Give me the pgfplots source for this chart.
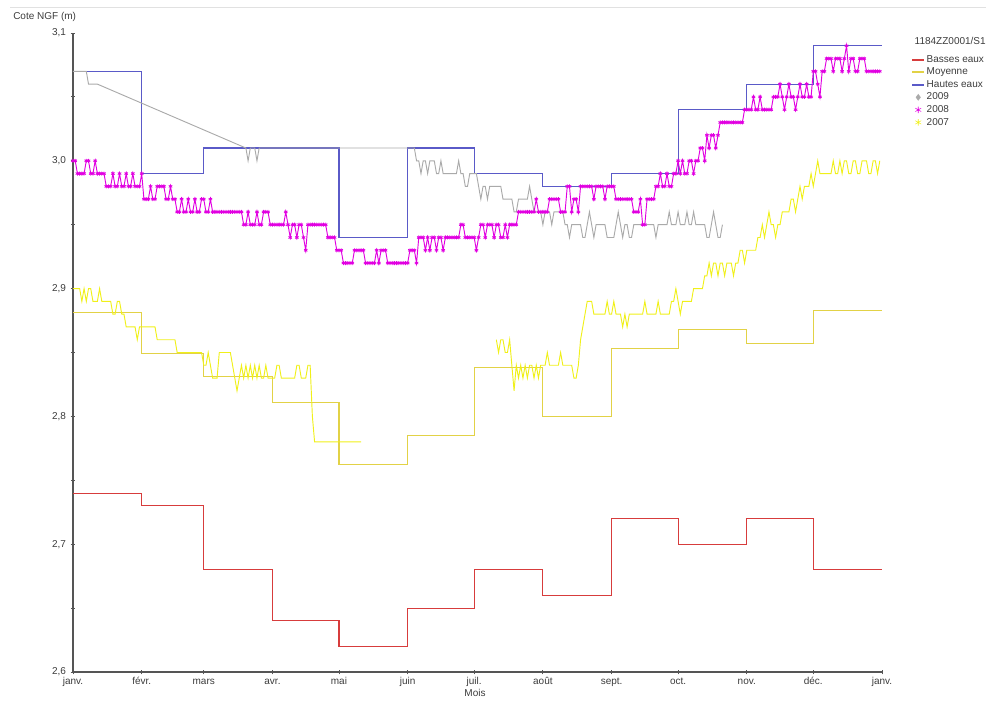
\documentclass[border=0pt]{standalone}
\usepackage{pgfplots}
\pgfplotsset{compat=1.18}
\usepackage{fontspec}
\setmainfont{Liberation Sans}
\definecolor{txt}{RGB}{60,60,60}
\definecolor{axc}{RGB}{85,85,85}
\definecolor{frame}{RGB}{225,225,225}
\definecolor{basses}{RGB}{215,60,60}
\definecolor{moy}{RGB}{226,210,70}
\definecolor{hautes}{RGB}{90,90,200}
\definecolor{y2009}{RGB}{170,170,170}
\definecolor{y2008}{RGB}{225,0,225}
\definecolor{y2007}{RGB}{240,240,25}
\pgfplotsset{
  leglineimg/.style={legend image code/.code={\draw[##1, line width=1.3pt] (0pt,0pt) -- (9pt,0pt);}},
  legmarkimg/.style={legend image code/.code={\draw[##1] plot coordinates {(4.5pt,0pt)};}},
}
\begin{document}
\begin{tikzpicture}
\path[use as bounding box] (-54.75pt,-37.5pt) rectangle (684.75pt,504pt);
\draw[frame, line width=0.8pt] (-47.25pt,498.4pt) -- (684.75pt,498.4pt);
\begin{axis}[
  at={(0pt,0pt)}, anchor=south west,
  scale only axis, width=606.75pt, height=479.25pt,
  xmin=0, xmax=365, ymin=2.6, ymax=3.1,
  axis x line=bottom, axis y line=left,
  axis line style={-, draw=axc, line width=0.8pt},
  tick style={draw=axc, line width=0.6pt},
  tick align=center, major tick length=3.5pt, minor tick length=2.5pt,
  xtick={0,31,59,90,120,151,181,212,243,273,304,334,365},
  xticklabels={janv.,févr.,mars,avr.,mai,juin,juil.,août,sept.,oct.,nov.,déc.,janv.},
  ytick={2.6,2.7,2.8,2.9,3.0,3.1},
  minor y tick num=1,
  ticklabel style={font=\fontsize{7.5}{9}\selectfont, text=txt},
  xticklabel style={yshift=1.5pt, text height=5.5pt, text depth=1.5pt},
  yticklabel style={/pgf/number format/.cd, fixed, fixed zerofill, precision=1, use comma, assume math mode=true},
  legend style={at={(axis description cs:1.036,0.988)}, anchor=north west, draw=none, fill=none,
    font=\fontsize{7.5}{9}\selectfont, text=txt, inner sep=0pt, row sep=0pt,
    nodes={inner sep=1.2pt, text height=5.5pt, text depth=1.5pt}},
  legend cell align=left,
  leglineimg,
]
\addlegendimage{empty legend}
\addlegendentry{\hspace*{-9pt}\raisebox{3.75pt}{1184ZZ0001/S1}}
\addlegendimage{draw=basses, color=basses}
\addlegendentry{Basses eaux}
\addlegendimage{draw=moy, color=moy}
\addlegendentry{Moyenne}
\addlegendimage{draw=hautes, color=hautes}
\addlegendentry{Hautes eaux}
\addlegendimage{only marks, mark=diamond*, mark size=2.2pt, color=y2009, legmarkimg}
\addlegendentry{2009}
\addlegendimage{only marks, mark=asterisk, mark size=2.5pt, color=y2008, legmarkimg}
\addlegendentry{2008}
\addlegendimage{only marks, mark=asterisk, mark size=2.5pt, color=y2007, legmarkimg}
\addlegendentry{2007}

% Basses eaux
\addplot[forget plot, const plot, basses, line width=0.8pt] coordinates {
(0,2.74)(31,2.73)(59,2.68)(90,2.64)(120,2.62)(151,2.65)(181,2.68)(212,2.66)(243,2.72)(273,2.70)(304,2.72)(334,2.68)(365,2.68)};
% Moyenne
\addplot[forget plot, const plot, moy, line width=0.8pt] coordinates {
(0,2.881)(31,2.849)(59,2.831)(90,2.811)(120,2.762)(151,2.785)(181,2.838)(212,2.80)(243,2.853)(273,2.868)(304,2.857)(334,2.883)(365,2.883)};
% Hautes eaux
\addplot[forget plot, const plot, hautes, line width=0.8pt] coordinates {
(0,3.07)(31,2.99)(59,3.01)(90,3.01)(120,2.94)(151,3.01)(181,2.99)(212,2.98)(243,2.99)(273,3.04)(304,3.06)(334,3.09)(365,3.09)};
% 2007 (two segments)
\addplot[forget plot, y2007, line width=0.7pt] coordinates {
(0,2.90)(1,2.90)(2,2.90)(3,2.90)(4,2.89)(5,2.90)(6,2.89)(7,2.90)(8,2.90)(9,2.89)(10,2.89)(11,2.89)(12,2.90)(13,2.89)(14,2.89)(15,2.89)(16,2.89)(17,2.89)(18,2.88)(19,2.88)(20,2.89)(21,2.89)(22,2.88)(23,2.88)(24,2.87)(25,2.87)(26,2.87)(27,2.87)(28,2.87)(29,2.86)(30,2.87)(31,2.87)(32,2.87)(33,2.87)(34,2.87)(35,2.87)(36,2.87)(37,2.87)(38,2.86)(39,2.86)(40,2.86)(41,2.86)(42,2.86)(43,2.86)(44,2.86)(45,2.86)(46,2.86)(47,2.85)(48,2.85)(50,2.85)(52,2.85)(54,2.85)(56,2.85)(58,2.85)(59,2.84)(60,2.84)(61,2.85)(62,2.84)(63,2.83)(64,2.83)(65,2.83)(66,2.85)(67,2.85)(68,2.85)(69,2.85)(70,2.85)(71,2.85)(72,2.84)(73,2.83)(74,2.82)(75,2.83)(76,2.84)(77,2.83)(78,2.84)(79,2.83)(80,2.84)(81,2.83)(82,2.84)(83,2.83)(84,2.84)(85,2.83)(86,2.83)(87,2.84)(88,2.83)(89,2.83)(90,2.83)(91,2.83)(92,2.84)(93,2.84)(94,2.83)(95,2.83)(96,2.83)(97,2.83)(98,2.83)(99,2.83)(100,2.83)(101,2.84)(102,2.84)(103,2.83)(104,2.83)(105,2.83)(106,2.84)(107,2.84)(108,2.80)(109,2.78)(110,2.78)(115,2.78)(120,2.78)(125,2.78)(130,2.78)};
\addplot[forget plot, y2007, line width=0.7pt] coordinates {
(191,2.86)(192,2.85)(193,2.86)(194,2.86)(195,2.85)(196,2.85)(197,2.86)(198,2.84)(199,2.82)(200,2.84)(201,2.83)(202,2.84)(203,2.83)(204,2.84)(205,2.83)(206,2.84)(207,2.84)(208,2.83)(209,2.84)(210,2.83)(211,2.84)(212,2.84)(213,2.84)(214,2.85)(215,2.84)(216,2.84)(217,2.84)(218,2.84)(219,2.84)(220,2.85)(221,2.84)(222,2.84)(223,2.84)(224,2.84)(225,2.84)(226,2.83)(227,2.83)(228,2.84)(229,2.86)(230,2.87)(231,2.88)(232,2.89)(233,2.89)(234,2.89)(235,2.88)(236,2.88)(237,2.88)(238,2.88)(239,2.88)(240,2.88)(241,2.89)(242,2.88)(243,2.88)(244,2.89)(245,2.88)(246,2.88)(247,2.88)(248,2.87)(249,2.88)(250,2.87)(251,2.88)(252,2.88)(253,2.88)(254,2.88)(255,2.88)(256,2.88)(257,2.88)(258,2.89)(259,2.88)(260,2.88)(261,2.88)(262,2.88)(263,2.88)(264,2.89)(265,2.88)(266,2.88)(267,2.88)(268,2.88)(269,2.88)(270,2.89)(271,2.89)(272,2.90)(273,2.89)(274,2.88)(275,2.89)(276,2.89)(277,2.89)(278,2.89)(279,2.89)(280,2.90)(281,2.90)(282,2.90)(283,2.90)(284,2.90)(285,2.91)(286,2.91)(287,2.92)(288,2.91)(289,2.92)(290,2.92)(291,2.91)(292,2.92)(293,2.92)(294,2.91)(295,2.92)(296,2.92)(297,2.92)(298,2.91)(299,2.92)(300,2.92)(301,2.93)(302,2.93)(303,2.92)(304,2.93)(305,2.93)(306,2.93)(307,2.93)(308,2.93)(309,2.94)(310,2.94)(311,2.95)(312,2.94)(313,2.95)(314,2.96)(315,2.95)(316,2.95)(317,2.94)(318,2.95)(319,2.95)(320,2.96)(321,2.96)(322,2.96)(323,2.96)(324,2.97)(325,2.97)(326,2.96)(327,2.97)(328,2.98)(329,2.97)(330,2.98)(331,2.98)(332,2.98)(333,2.99)(334,2.98)(335,2.99)(336,3.00)(337,2.99)(338,2.99)(339,2.99)(340,2.99)(341,2.99)(342,2.99)(343,3.00)(344,2.99)(345,2.99)(346,3.00)(347,2.99)(348,3.00)(349,3.00)(350,2.99)(351,2.99)(352,3.00)(353,3.00)(354,2.99)(355,2.99)(356,3.00)(357,3.00)(358,3.00)(359,2.99)(360,2.99)(361,3.00)(362,3.00)(363,2.99)(364,3.00)};
% 2009
\addplot[forget plot, y2009, line width=0.7pt] coordinates {
(0,3.07)(1,3.07)(2,3.07)(3,3.07)(4,3.07)(5,3.07)(6,3.07)(7,3.06)(8,3.06)(9,3.06)(10,3.06)(11,3.06)(78,3.01)(79,3.00)(80,3.01)(81,3.01)(82,3.01)(83,3.00)(84,3.01)(85,3.01)(86,3.01)(87,3.01)(88,3.01)(89,3.01)(90,3.01)(91,3.01)(154,3.01)(155,3.00)(156,3.00)(157,2.99)(158,3.00)(159,3.00)(160,2.99)(161,3.00)(162,3.00)(163,3.00)(164,2.99)(165,2.99)(166,3.00)(167,2.99)(168,2.99)(169,2.99)(170,2.99)(171,2.99)(172,2.99)(173,2.99)(174,3.00)(175,2.99)(176,2.99)(177,2.98)(178,2.98)(179,2.99)(180,2.99)(181,2.99)(182,2.99)(183,2.98)(184,2.97)(185,2.98)(186,2.98)(187,2.97)(188,2.98)(189,2.98)(190,2.98)(191,2.98)(192,2.98)(193,2.98)(194,2.97)(195,2.97)(196,2.97)(197,2.97)(198,2.97)(199,2.96)(200,2.96)(201,2.97)(202,2.97)(203,2.97)(204,2.97)(205,2.97)(206,2.98)(207,2.97)(208,2.96)(209,2.96)(210,2.96)(211,2.96)(212,2.95)(213,2.96)(214,2.96)(215,2.96)(216,2.95)(217,2.96)(218,2.96)(219,2.96)(220,2.96)(221,2.96)(222,2.95)(223,2.95)(224,2.94)(225,2.95)(226,2.95)(227,2.95)(228,2.95)(229,2.95)(230,2.94)(231,2.94)(232,2.95)(233,2.96)(234,2.95)(235,2.94)(236,2.95)(237,2.95)(238,2.95)(239,2.95)(240,2.95)(241,2.94)(242,2.94)(243,2.94)(244,2.94)(245,2.95)(246,2.96)(247,2.95)(248,2.94)(249,2.95)(250,2.95)(251,2.94)(252,2.94)(253,2.95)(254,2.95)(255,2.95)(256,2.95)(257,2.95)(258,2.95)(259,2.95)(260,2.95)(261,2.95)(262,2.95)(263,2.94)(264,2.95)(265,2.95)(266,2.95)(267,2.95)(268,2.95)(269,2.96)(270,2.95)(271,2.95)(272,2.95)(273,2.96)(274,2.95)(275,2.95)(276,2.95)(277,2.96)(278,2.95)(279,2.95)(280,2.96)(281,2.95)(282,2.95)(283,2.95)(284,2.95)(285,2.95)(286,2.94)(287,2.94)(288,2.95)(289,2.96)(290,2.95)(291,2.94)(292,2.94)(293,2.95)};
% 2008
\addplot[forget plot, y2008, line width=0.7pt, mark=asterisk, mark size=1.5pt, mark options={line width=0.6pt}] coordinates {
(0,3.00)(1,3.00)(2,2.99)(3,2.99)(4,2.99)(5,2.99)(6,3.00)(7,3.00)(8,2.99)(9,2.99)(10,3.00)(11,2.99)(12,2.99)(13,2.99)(14,2.99)(15,2.98)(16,2.98)(17,2.98)(18,2.99)(19,2.98)(20,2.98)(21,2.99)(22,2.98)(23,2.98)(24,2.99)(25,2.98)(26,2.98)(27,2.99)(28,2.98)(29,2.98)(30,2.98)(31,2.99)(32,2.97)(33,2.97)(34,2.97)(35,2.98)(36,2.97)(37,2.97)(38,2.98)(39,2.98)(40,2.98)(41,2.98)(42,2.97)(43,2.97)(44,2.98)(45,2.97)(46,2.97)
(47,2.96)(48,2.96)(49,2.97)(50,2.96)(51,2.96)(52,2.97)(53,2.96)(54,2.96)(55,2.97)(56,2.96)(57,2.96)(58,2.97)(59,2.97)(60,2.96)(61,2.96)(62,2.97)(63,2.96)(64,2.96)(65,2.96)(66,2.96)(67,2.96)(68,2.96)(69,2.96)(70,2.96)(71,2.96)(72,2.96)(73,2.96)(74,2.96)(75,2.96)(76,2.96)
(77,2.95)(78,2.95)(79,2.96)(80,2.95)(81,2.95)(82,2.95)(83,2.96)(84,2.95)(85,2.95)(86,2.96)(87,2.96)(88,2.96)(89,2.95)(90,2.95)(91,2.95)
(92,2.95)(93,2.95)(94,2.95)(95,2.95)(96,2.96)(97,2.95)(98,2.94)(99,2.95)(100,2.95)(101,2.94)(102,2.95)(103,2.95)(104,2.94)(105,2.93)(106,2.95)(107,2.95)(108,2.95)(109,2.95)(110,2.95)(111,2.95)(112,2.95)(113,2.95)(114,2.95)(115,2.94)(116,2.94)(117,2.94)(118,2.94)
(119,2.93)(120,2.93)(121,2.93)(122,2.92)(123,2.92)(124,2.92)(125,2.92)(126,2.92)(127,2.93)(128,2.93)(129,2.93)(130,2.93)(131,2.93)(132,2.92)(133,2.92)(134,2.92)(135,2.92)(136,2.92)(137,2.93)(138,2.92)(139,2.93)(140,2.93)(141,2.93)(142,2.92)(143,2.92)(144,2.92)(145,2.92)(146,2.92)
(147,2.92)(148,2.92)(149,2.92)(150,2.92)(151,2.92)(152,2.93)(153,2.93)(154,2.93)(155,2.92)(156,2.94)(157,2.94)(158,2.94)(159,2.93)(160,2.94)(161,2.93)(162,2.94)(163,2.94)(164,2.93)(165,2.94)(166,2.94)(167,2.93)(168,2.94)(169,2.94)(170,2.94)(171,2.94)(172,2.94)(173,2.94)(174,2.94)(175,2.95)(176,2.95)(177,2.94)(178,2.94)(179,2.94)(180,2.94)(181,2.94)(182,2.93)(183,2.94)(184,2.95)(185,2.95)(186,2.94)(187,2.95)(188,2.95)(189,2.95)(190,2.94)(191,2.95)(192,2.95)(193,2.94)(194,2.94)(195,2.95)(196,2.94)(197,2.95)(198,2.95)(199,2.95)(200,2.95)(201,2.96)(202,2.96)(203,2.96)(204,2.96)(205,2.96)(206,2.96)(207,2.96)(208,2.96)(209,2.97)(210,2.96)
(211,2.96)(212,2.96)(213,2.96)(214,2.96)(215,2.97)(216,2.97)(217,2.97)(218,2.97)(219,2.97)(220,2.96)(221,2.96)(222,2.96)(223,2.98)(224,2.98)(225,2.96)(226,2.97)(227,2.97)(228,2.96)(229,2.98)(230,2.98)(231,2.98)(232,2.98)(233,2.98)(234,2.98)(235,2.97)(236,2.98)(237,2.98)(238,2.98)(239,2.98)(240,2.97)(241,2.98)(242,2.98)(243,2.98)(244,2.98)(245,2.97)(246,2.97)(247,2.97)(248,2.97)(249,2.97)(250,2.97)(251,2.97)(252,2.97)(253,2.96)(254,2.96)(255,2.96)(256,2.97)(257,2.95)(258,2.95)(259,2.97)(260,2.97)(261,2.97)(262,2.97)(263,2.98)(264,2.98)(265,2.99)(266,2.98)(267,2.98)(268,2.99)(269,2.98)(270,2.98)(271,2.99)(272,2.99)(273,3.00)(274,2.99)(275,3.00)(276,2.99)(277,2.99)(278,3.00)(279,3.00)(280,2.99)(281,3.00)(282,3.00)(283,3.01)(284,3.01)(285,3.00)(286,3.02)(287,3.01)(288,3.02)(289,3.02)(290,3.01)(291,3.02)(292,3.03)(293,3.03)(294,3.03)(295,3.03)(296,3.03)(297,3.03)(298,3.03)(299,3.03)(300,3.03)(301,3.03)(302,3.03)(303,3.04)(304,3.04)(305,3.04)(306,3.04)(307,3.05)(308,3.04)(309,3.04)(310,3.05)(311,3.04)(312,3.04)(313,3.04)(314,3.04)(315,3.04)(316,3.05)(317,3.05)(318,3.05)(319,3.06)(320,3.05)(321,3.04)(322,3.05)(323,3.06)(324,3.05)(325,3.05)(326,3.04)(327,3.05)(328,3.06)(329,3.05)(330,3.05)(331,3.06)(332,3.05)(333,3.05)(334,3.07)(335,3.07)(336,3.06)(337,3.05)(338,3.07)(339,3.07)(340,3.08)(341,3.08)(342,3.08)(343,3.07)(344,3.08)(345,3.08)(346,3.08)(347,3.07)(348,3.08)(349,3.09)(350,3.07)(351,3.08)(352,3.08)(353,3.07)(354,3.07)(355,3.08)(356,3.08)(357,3.08)(358,3.07)(359,3.07)(360,3.07)(361,3.07)(362,3.07)(363,3.07)(364,3.07)};
\end{axis}
\node[anchor=west, text=txt, font=\fontsize{7.5}{9}\selectfont, inner sep=0pt] at (-45pt,491.25pt) {Cote NGF (m)};
\node[text=txt, font=\fontsize{7.5}{9}\selectfont, inner sep=0pt] at (301.5pt,-15.75pt) {Mois};
\end{tikzpicture}
\end{document}
